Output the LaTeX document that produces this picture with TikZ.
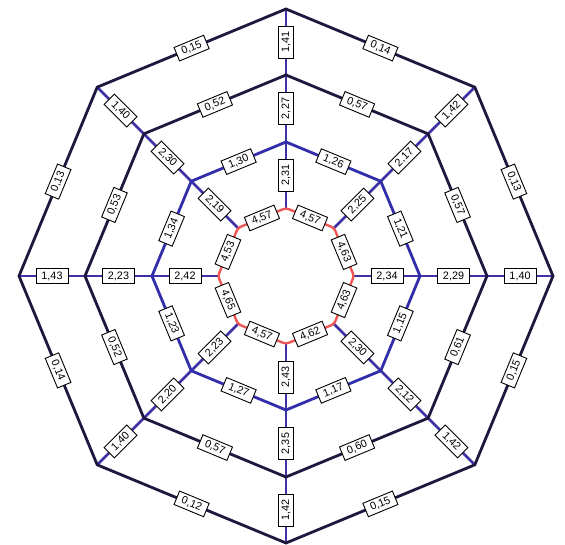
\documentclass[tikz,border=0pt]{standalone}
\usepackage{fontspec}
\setmainfont{Liberation Sans}
\usetikzlibrary{calc}
\definecolor{darkline}{RGB}{30,24,62}
\definecolor{blueline}{RGB}{50,46,170}
\definecolor{spokeline}{RGB}{62,48,165}
\definecolor{redline}{RGB}{240,84,84}
\begin{document}
\begin{tikzpicture}[x=1pt,y=1pt,
  lab/.style={draw=black, fill=white, line width=0.9pt,
    font=\fontsize{10.8}{11}\selectfont, minimum width=32pt,
    minimum height=14.5pt, inner sep=1pt},
  outerring/.style={draw=darkline, line width=2.8pt, line join=miter},
  bluering/.style={draw=blueline, line width=2.8pt},
  spoke/.style={draw=spokeline, line width=2.8pt},
  redring/.style={draw=redline, line width=2.4pt, rounded corners=3pt}]
\useasboundingbox (0,0) rectangle (565,544);
\coordinate (C) at (286,268);
\foreach \a in {0,45,...,315} {
  \coordinate (o\a) at ($(C)+(\a:267)$);
  \coordinate (m\a) at ($(C)+(\a:201)$);
  \coordinate (i\a) at ($(C)+(\a:134)$);
  \coordinate (r\a) at ($(C)+(\a:68)$);
}
% spokes
\foreach \a in {0,45,...,315} {
  \draw[spoke] (o\a) -- (m\a) -- (i\a) -- (r\a);
}
% rings
\draw[outerring] (o0) -- (o45) -- (o90) -- (o135) -- (o180) -- (o225) -- (o270) -- (o315) -- cycle;
\draw[outerring] (m0) -- (m45) -- (m90) -- (m135) -- (m180) -- (m225) -- (m270) -- (m315) -- cycle;
\draw[bluering] (i0) -- (i45) -- (i90) -- (i135) -- (i180) -- (i225) -- (i270) -- (i315) -- cycle;
\draw[redring] (r0) -- (r45) -- (r90) -- (r135) -- (r180) -- (r225) -- (r270) -- (r315) -- cycle;
% ring edge labels
\foreach \a/\p/\q/\s/\t in {
  0/{0,13}/{0,57}/{1,21}/{4,63},
  45/{0,14}/{0,57}/{1,26}/{4,57},
  90/{0,15}/{0,52}/{1,30}/{4,57},
  135/{0,13}/{0,53}/{1,34}/{4,53},
  180/{0,14}/{0,52}/{1,23}/{4,65},
  225/{0,12}/{0,57}/{1,27}/{4,57},
  270/{0,15}/{0,60}/{1,17}/{4,62},
  315/{0,15}/{0,61}/{1,15}/{4,63}} {
  \pgfmathtruncatemacro{\b}{mod(\a+45,360)}
  \pgfmathsetmacro{\r}{mod(\a,180)-67.5}
  \path (o\a) -- node[lab, rotate=\r] {\p} (o\b);
  \path (m\a) -- node[lab, rotate=\r] {\q} (m\b);
  \path (i\a) -- node[lab, rotate=\r] {\s} (i\b);
  \path (r\a) -- node[lab, rotate=\r] {\t} (r\b);
}
% spoke labels
\foreach \a/\p/\q/\s in {
  0/{1,40}/{2,29}/{2,34},
  45/{1,42}/{2,17}/{2,25},
  90/{1,41}/{2,27}/{2,31},
  135/{1,40}/{2,30}/{2,19},
  180/{1,43}/{2,23}/{2,42},
  225/{1,40}/{2,20}/{2,23},
  270/{1,42}/{2,35}/{2,43},
  315/{1,42}/{2,12}/{2,30}} {
  \pgfmathsetmacro{\r}{mod(\a+45,180)-45}
  \path (o\a) -- node[lab, rotate=\r] {\p} (m\a);
  \path (m\a) -- node[lab, rotate=\r] {\q} (i\a);
  \path (i\a) -- node[lab, rotate=\r] {\s} (r\a);
}
\end{tikzpicture}
\end{document}
